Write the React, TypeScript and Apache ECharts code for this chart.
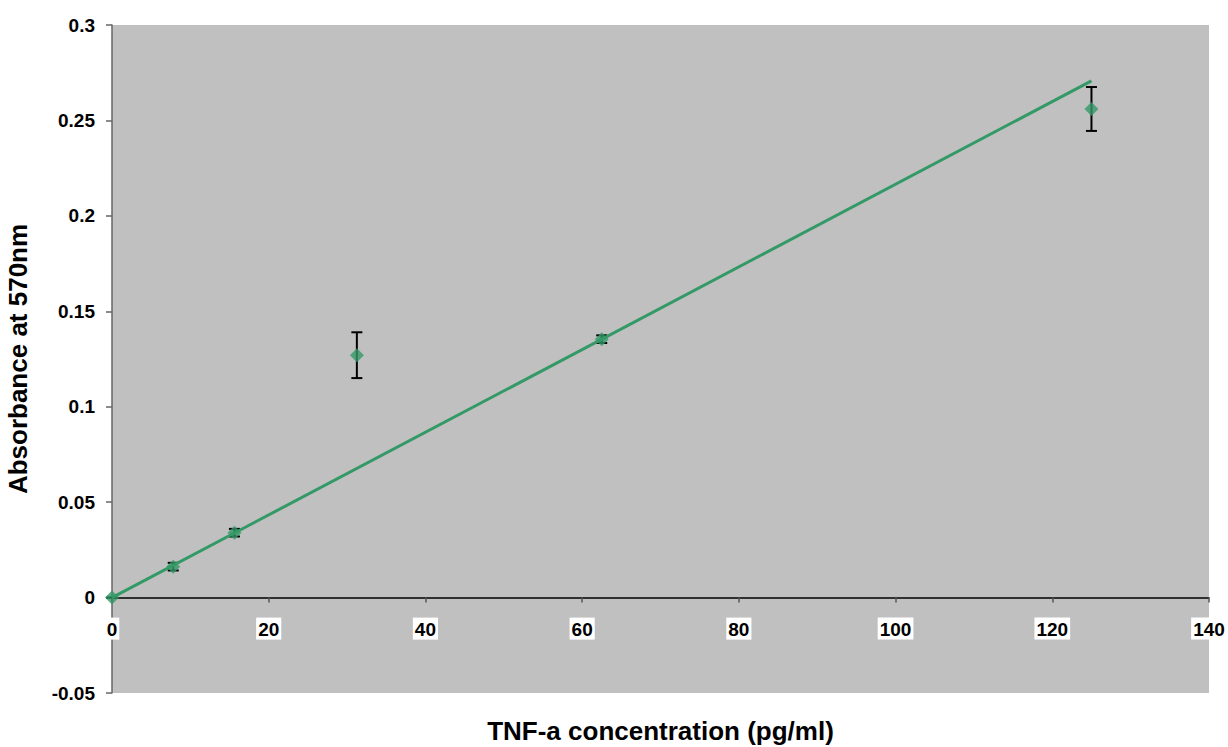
import React, { useEffect, useRef } from "react";
import * as echarts from "echarts";

const concentrations = [0, 7.8125, 15.625, 31.25, 62.5, 125];
const absorbance = [0, 0.0162, 0.034, 0.127, 0.1354, 0.256];
const errors = [0, 0.002, 0.002, 0.012, 0.002, 0.0115];
const trendX = [0, 125];
const trendY = [0, 0.2707];

const GREEN = "#339966";
const FONT = "'Liberation Sans', Arial, sans-serif";

export default function App() {
  const ref = useRef<HTMLDivElement>(null);
  useEffect(() => {
    const chart = echarts.init(ref.current!, undefined, { renderer: "svg" });
    const points = concentrations.map((x, i) => [x, absorbance[i]]);
    const errData = concentrations.map((x, i) => [x, absorbance[i] - errors[i], absorbance[i] + errors[i]]);
    chart.setOption({
      animation: false,
      grid: {
        left: 112,
        right: 19,
        top: 25,
        bottom: 54,
        show: true,
        backgroundColor: "#C0C0C0",
        borderWidth: 0,
        containLabel: false,
        outerBoundsMode: "none",
      },
      xAxis: {
        type: "value",
        min: 0,
        max: 140,
        interval: 20,
        offset: -95.4,
        name: "TNF-a concentration (pg/ml)",
        nameLocation: "middle",
        nameGap: 120,
        nameMoveOverlap: false,
        nameTextStyle: { fontFamily: FONT, fontWeight: "bold", fontSize: 26, color: "#000", lineHeight: 26 },
        axisLine: { onZero: false, lineStyle: { color: "#000", width: 1.5 } },
        axisTick: { show: true, length: 5, lineStyle: { color: "#555", width: 1.5 } },
        axisLabel: {
          fontFamily: FONT,
          fontWeight: "bold",
          fontSize: 19,
          color: "#000",
          margin: 20,
          backgroundColor: "#fff",
          padding: [2, 2, 1, 2],
        },
        splitLine: { show: false },
      },
      yAxis: {
        type: "value",
        min: -0.05,
        max: 0.3,
        interval: 0.05,
        name: "Absorbance at 570nm",
        nameLocation: "middle",
        nameGap: 81,
        nameMoveOverlap: false,
        nameTextStyle: { fontFamily: FONT, fontWeight: "bold", fontSize: 26, color: "#000" },
        axisLine: { show: true, lineStyle: { color: "#666", width: 1.5 } },
        axisTick: { show: true, length: 6, lineStyle: { color: "#666", width: 1.5 } },
        axisLabel: {
          fontFamily: FONT,
          fontWeight: "bold",
          fontSize: 19,
          color: "#000",
          margin: 17,
          formatter: (v: number) => String(+v.toFixed(2)),
        },
        splitLine: { show: false },
      },
      series: [
        {
          type: "custom",
          data: errData,
          z: 2,
          renderItem: (params: any, api: any) => {
            const x = api.value(0);
            const lo = api.coord([x, api.value(1)]);
            const hi = api.coord([x, api.value(2)]);
            const w = 5.5;
            const style = { stroke: "#000", lineWidth: 2 };
            return {
              type: "group",
              children: [
                { type: "line", shape: { x1: lo[0], y1: lo[1], x2: hi[0], y2: hi[1] }, style },
                { type: "line", shape: { x1: lo[0] - w, y1: lo[1], x2: lo[0] + w, y2: lo[1] }, style },
                { type: "line", shape: { x1: hi[0] - w, y1: hi[1], x2: hi[0] + w, y2: hi[1] }, style },
              ],
            };
          },
        },
        {
          type: "scatter",
          data: points,
          symbol: "diamond",
          symbolSize: 14,
          itemStyle: { color: GREEN },
          z: 3,
        },
        {
          type: "line",
          data: trendX.map((x, i) => [x, trendY[i]]),
          showSymbol: false,
          symbol: "none",
          lineStyle: { color: GREEN, width: 3 },
          z: 4,
        },
      ],
    });
    return () => chart.dispose();
  }, []);
  return (
    <div
      ref={ref}
      style={{ position: "fixed", left: 0, top: 0, width: 1228, height: 747, background: "#fff" }}
    />
  );
}
